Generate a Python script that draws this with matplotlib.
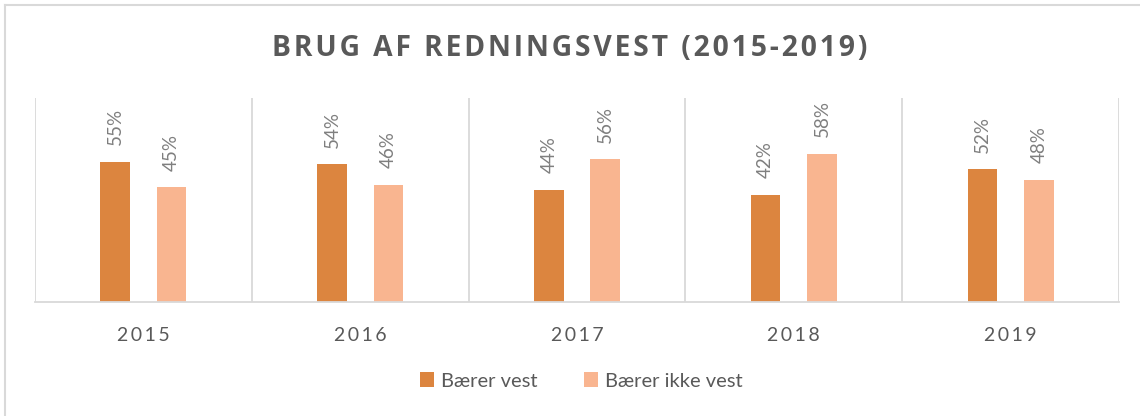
import matplotlib.pyplot as plt
import numpy as np

years = ['2015', '2016', '2017', '2018', '2019']
med_vest = [55, 54, 44, 42, 52]
uden_vest = [45, 46, 56, 58, 48]
series_names = ['Bærer vest', 'Bærer ikke vest']

dark = '#DC853F'
light = '#F9B590'
grid_col = '#D9D9D9'
txt = '#595959'


def spaced(s, sep='\u200a'):
    return sep.join(s)


fig = plt.figure(figsize=(11.4, 4.16), dpi=100)
ax = fig.add_axes([35 / 1140, 114 / 416, 1084 / 1140, 204 / 416])

x = np.arange(len(years))
w = 0.136
off = 0.13
b1 = ax.bar(x - off, med_vest, w, color=dark, label=series_names[0])
b2 = ax.bar(x + off, uden_vest, w, color=light, label=series_names[1])

for bars in (b1, b2):
    for r in bars:
        ax.annotate(f'{r.get_height():.0f}%', (r.get_x() + r.get_width() / 2, r.get_height()),
                    xytext=(0, 12), textcoords='offset points', rotation=90,
                    ha='center', va='bottom', fontsize=13.5, color='#7F7F7F',
                    family=['Lato', 'DejaVu Sans'])

ax.set_xlim(-0.5, len(years) - 0.5)
ax.set_ylim(0, 80)
for b in np.arange(len(years) + 1) - 0.5:
    ax.axvline(b, color=grid_col, lw=1.3, zorder=0)

for s in ax.spines.values():
    s.set_visible(False)
ax.spines['bottom'].set_visible(True)
ax.spines['bottom'].set_color(grid_col)
ax.spines['bottom'].set_linewidth(1.3)
ax.set_yticks([])
ax.set_xticks(x)
ax.set_xticklabels([spaced(y, '\u2009') for y in years], fontsize=14, color=txt,
                   family=['Lato', 'DejaVu Sans'])
ax.tick_params(axis='x', length=0, pad=18)

fig.text(0.5, 1 - 48 / 416, spaced('BRUG AF REDNINGSVEST (2015-2019)', '\u200a'),
         ha='center', va='center', fontsize=20.3, fontweight='bold', color=txt,
         family=['Open Sans', 'DejaVu Sans'])

leg = fig.legend(loc='center', bbox_to_anchor=(581 / 1140, 1 - 381 / 416), ncol=2,
                 frameon=False, handlelength=0.7, handleheight=0.7, handletextpad=0.35,
                 columnspacing=2.3, prop={'family': 'Lato', 'size': 14.5})
for t in leg.get_texts():
    t.set_color(txt)

# light frame lines on left and top
fig.add_artist(plt.Line2D([5 / 1140, 5 / 1140], [0, 1 - 5 / 416], color=grid_col, lw=1.5))
fig.add_artist(plt.Line2D([5 / 1140, 1], [1 - 5 / 416, 1 - 5 / 416], color=grid_col, lw=1.5))

fig.savefig('out.png', dpi=100)
